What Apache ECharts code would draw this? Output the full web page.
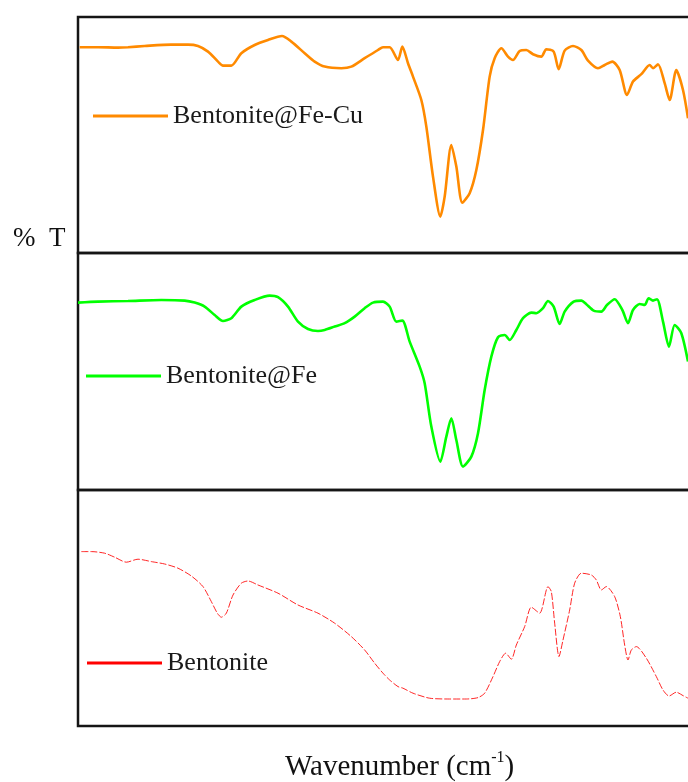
<!DOCTYPE html>
<html>
<head>
<meta charset="utf-8">
<script src="https://cdn.jsdelivr.net/npm/echarts@6/dist/echarts.min.js"></script>
<style>html,body{margin:0;padding:0;background:#fff;overflow:hidden}#c{width:700px;height:782px}</style>
</head>
<body>
<div id="c"></div>
<script>
// Wavenumber (cm-1) and %T values
const feCuWn = [3990,3880,3760,3700,3600,3442,3340,3280,3220,3160,3130,3080,3020,2940,2860,2776,2720,2640,2580,2520,2420,2360,2280,2200,2170,2130,2080,2054,2020,1990,1940,1910,1870,1826,1800,1760,1730,1694,1650,1610,1570,1530,1500,1460,1420,1390,1350,1310,1270,1220,1190,1146,1116,1080,1030,980,940,880,840,794,750,706,670,620,570,550,520,480,450,410,370,340];
const feCuT  = [102.9,102.9,102.7,102.9,103.5,104.2,104.2,103.5,100.7,95.7,93.7,93.7,99.9,104,106.5,108.5,105.7,99.9,95.7,93.2,92.4,93.2,97.4,101.5,102.9,102.9,96.5,103.2,94.9,88.2,76.5,63.2,38.2,18.2,28.2,54,43.2,25.2,29.9,41.5,61.5,88.2,97.4,102.4,98.2,96.5,101,101.5,99.4,98.2,101.9,100.7,91.9,101.2,103.5,101.5,96.2,92.4,94,95.7,91.5,79,85.7,89.4,94,92.4,94.4,84.9,76.5,91.5,81.5,67.4];

const feWn = [4000,3880,3700,3500,3360,3300,3240,3180,3130,3080,3020,2940,2850,2800,2740,2680,2620,2560,2520,2460,2400,2340,2280,2230,2170,2130,2090,2054,2010,1950,1920,1880,1826,1790,1760,1730,1690,1640,1600,1560,1520,1480,1440,1410,1370,1330,1280,1250,1210,1180,1146,1110,1080,1026,980,950,906,860,826,780,734,700,670,630,600,576,550,526,490,454,420,380,340];
const feT  = [93.7,94.2,94.5,95,94.7,93.7,91.7,87.5,84.5,85.9,91.7,95,97.2,96.4,91.7,84.2,80.5,79.5,80,81.7,83.4,86.7,90.9,93.7,94.2,91.7,84.2,84.7,74.2,61.7,53.4,31.7,14.2,26.7,35.9,25,11.7,16.7,28.4,50,66.7,76.4,77.5,75,80,85.9,88.7,88.4,90.9,94.5,91.7,83,89.2,94.2,94.7,92.9,89.7,89.2,92.5,95.4,90,83.4,90,93,92.5,95.9,94.7,95.4,84.2,71.7,82.5,78.4,64.2];

const bentWn = [3980,3920,3840,3780,3710,3640,3560,3480,3400,3320,3250,3200,3164,3140,3110,3070,3020,2980,2920,2800,2680,2560,2460,2360,2280,2220,2170,2130,2080,2050,1990,1890,1770,1670,1600,1560,1510,1470,1434,1400,1370,1320,1280,1230,1180,1160,1140,1114,1090,1050,1020,980,920,890,860,830,780,746,720,700,680,650,590,530,490,454,410,370,340];
const bentT  = [87.2,87.2,86.4,84.4,81.9,83.4,82.2,81,78.9,75,69.7,62.2,56.4,54.4,56.4,65.5,71.4,72.5,70.5,66.4,60.5,56.4,51.4,44.7,38,31.4,26.4,23,19.7,18.9,16.4,13.9,13.5,13.5,14.2,16.4,24.7,32.2,36.4,33.4,40.5,49.7,59.4,56.4,69.7,67.2,51.4,34.7,43,58,71.4,76.4,75.5,73,68,69.7,64.7,54.7,40.5,33,38,39.7,33.9,24.7,18,15,16.9,15.2,13.9];

const seriesNames = ['Bentonite@Fe-Cu','Bentonite@Fe','Bentonite'];
const seriesColors = ['#ff8a00','#00ff00','#ff0000'];
const yMax = [118, 118.5, 118];
const xMin = 268, xMax = 4000;

function pairs(xs, ys){ return xs.map((x,i)=>[x, ys[i]]); }
const dataSets = [pairs(feCuWn, feCuT), pairs(feWn, feT), pairs(bentWn, bentT)];

const chart = echarts.init(document.getElementById('c'), null, {renderer:'canvas'});
const font = 'Liberation Serif';
const tops = [17, 253, 490];
const heights = [236, 237, 236];
const legendTops = [103, 363, 650];
const legendLefts = [93, 86, 87];

const option = {
  animation: false,
  backgroundColor: '#fff',
  grid: tops.map((t,i)=>({left:78, right:0, top:t, height:heights[i], show:true, borderColor:'#151515', borderWidth:2.5, backgroundColor:'transparent'})),
  xAxis: tops.map((t,i)=>({type:'value', gridIndex:i, min:xMin, max:xMax, inverse:true, show:false})),
  yAxis: tops.map((t,i)=>({type:'value', gridIndex:i, min:0, max:yMax[i], show:false})),
  legend: seriesNames.map((n,i)=>({
    data:[n], left:legendLefts[i], top:legendTops[i], padding:0, icon:'rect',
    itemWidth:75, itemHeight:3,
    textStyle:{fontFamily:font, fontSize:26, color:'#1a1a1a'}
  })),
  series: seriesNames.map((n,i)=>({
    name:n, type:'line', xAxisIndex:i, yAxisIndex:i, data:dataSets[i],
    showSymbol:false, smooth:0.25,
    itemStyle:{color:seriesColors[i]},
    lineStyle: i===2 ? {color:seriesColors[i], width:1, type:[7,2], opacity:0.85} : {color:seriesColors[i], width:2.6}
  })),
  graphic: [
    {type:'text', left:13, top:225, style:{text:'%  T', font:'27px "Liberation Serif"', fill:'#111'}},
    {type:'text', left:285, top:750, style:{
      text:'{a|Wavenumber (cm}{s|-1}{a|)}',
      rich:{
        a:{fontFamily:font, fontSize:29, fill:'#111', verticalAlign:'bottom', lineHeight:32},
        s:{fontFamily:font, fontSize:16, fill:'#111', verticalAlign:'top', lineHeight:32}
      }
    }}
  ]
};
chart.setOption(option);
</script>
</body>
</html>
